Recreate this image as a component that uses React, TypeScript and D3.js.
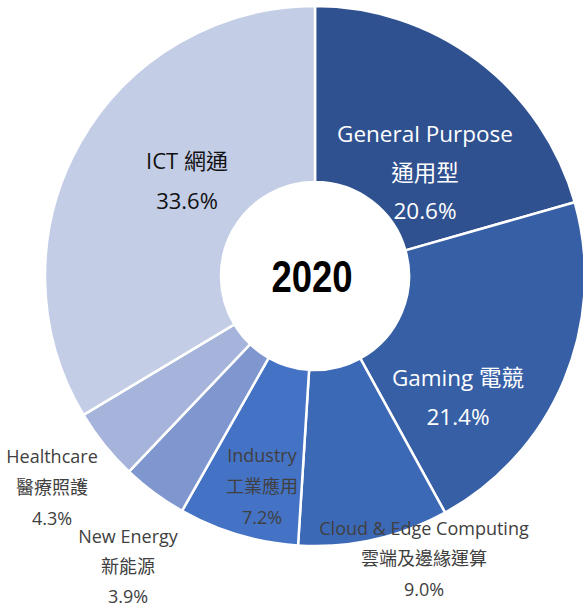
import React from "react";
import * as d3 from "d3";

const categories = ["General Purpose", "Gaming", "Cloud & Edge Computing", "Industry", "New Energy", "Healthcare", "ICT"];
const zhLabels = ["通用型", "電競", "雲端及邊緣運算", "工業應用", "新能源", "醫療照護", "網通"];
const shares = [20.6, 21.4, 9.0, 7.2, 3.9, 4.3, 33.6];
const colors = ["#2F5190", "#375FA6", "#3C69B6", "#4472C4", "#7F97CE", "#A6B4DB", "#C3CDE6"];
const yearLabel = "2020";

// label layout: [dx, dy] of label block centre relative to donut centre, and style
const labelLayout: { dx: number; dy: number; lines: string[]; fill: string; size: number; gap: number }[] = [
  { dx: 110, dy: -104, lines: ["General Purpose", "通用型", "20.6%"], fill: "#ffffff", size: 22.5, gap: 38.5 },
  { dx: 143, dy: 121, lines: ["Gaming 電競", "21.4%"], fill: "#ffffff", size: 22.5, gap: 39 },
  { dx: 109, dy: 282, lines: ["Cloud & Edge Computing", "雲端及邊緣運算", "9.0%"], fill: "#404040", size: 18, gap: 30.5 },
  { dx: -53, dy: 210, lines: ["Industry", "工業應用", "7.2%"], fill: "#404040", size: 18, gap: 31 },
  { dx: -187, dy: 290, lines: ["New Energy", "新能源", "3.9%"], fill: "#404040", size: 18, gap: 30 },
  { dx: -263, dy: 211, lines: ["Healthcare", "醫療照護", "4.3%"], fill: "#404040", size: 18, gap: 31 },
  { dx: -128, dy: -96, lines: ["ICT 網通", "33.6%"], fill: "#111111", size: 22, gap: 40 },
];

export default function App() {
  const W = 583, H = 608;
  const cx = 315, cy = 276;
  const outerR = 270, innerR = 94;

  const pie = d3.pie<number>().sort(null).value((d) => d).startAngle(0).endAngle(2 * Math.PI);
  const arcs = pie(shares);
  const arc = d3.arc<d3.PieArcDatum<number>>().innerRadius(innerR).outerRadius(outerR);

  const font = "'Open Sans', 'Noto Sans CJK TC', sans-serif";

  return (
    <svg width={W} height={H} style={{ position: "absolute", left: 0, top: 0, background: "#fff" }}>
      <g transform={`translate(${cx},${cy})`}>
        {arcs.map((a, i) => (
          <path key={categories[i]} d={arc(a) || ""} fill={colors[i]} stroke="#ffffff" strokeWidth={2.5} strokeLinejoin="round" />
        ))}
        <g transform="translate(-3,1) scale(0.83,1)">
          <text
            x={0}
            y={0}
            textAnchor="middle"
            dominantBaseline="central"
            fontFamily="'Liberation Sans', Arial, sans-serif"
            fontWeight="bold"
            fontSize={44}
            fill="#000"
          >
            {yearLabel}
          </text>
        </g>
        {labelLayout.map((l, i) => {
          const n = l.lines.length;
          return (
            <g key={"lab" + i}>
              {l.lines.map((t, j) => (
                <text
                  key={j}
                  x={l.dx}
                  y={l.dy + (j - (n - 1) / 2) * l.gap}
                  textAnchor="middle"
                  dominantBaseline="central"
                  fontFamily={font}
                  fontSize={l.size}
                  fill={l.fill}
                >
                  {t}
                </text>
              ))}
            </g>
          );
        })}
      </g>
    </svg>
  );
}
